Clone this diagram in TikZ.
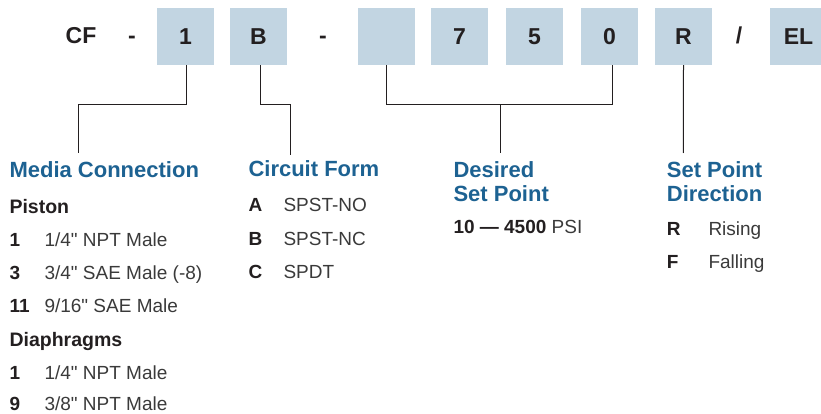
\documentclass[tikz,border=0pt]{standalone}
\usepackage{fontspec}
\setmainfont{Liberation Sans}[Ligatures=TeXOff]
\definecolor{boxblue}{HTML}{C2D5E2}
\definecolor{headblue}{HTML}{1D6292}
\definecolor{txt}{HTML}{231F20}
\definecolor{valtxt}{HTML}{3A3A3A}
\definecolor{linec}{HTML}{231F20}
\begin{document}
\begin{tikzpicture}[x=1pt,y=-1pt,
  codebox/.style={fill=boxblue, minimum width=57pt, minimum height=57pt, inner sep=0pt, text=txt, font=\fontsize{23}{23}\selectfont\bfseries},
  sep/.style={anchor=base, inner sep=0pt, text=txt, font=\fontsize{23}{23}\selectfont\bfseries},
  head/.style={anchor=base west, inner sep=0pt, align=left, text=headblue, font=\fontsize{22}{24.4}\selectfont\bfseries},
  sub/.style={anchor=base west, inner sep=0pt, text=txt, font=\fontsize{19.5}{20}\selectfont\bfseries},
  key/.style={anchor=base west, inner sep=0pt, text=txt, font=\fontsize{19}{20}\selectfont\bfseries},
  val/.style={anchor=base west, inner sep=0pt, text=valtxt, font=\fontsize{19}{20}\selectfont},
  conn/.style={draw=linec, line width=1pt}]
\useasboundingbox (0,0) rectangle (821,414);
\begin{scope}
\clip (0,0) rectangle (821,414);
% top code row
\node[sep] (cf) at (81,44) {CF};
\node[sep] (d1) at (132,44) {-};
\node[codebox] (b1) at (185.5,36.5) {1};
\node[codebox] (bB) at (258.5,36.5) {B};
\node[sep] (d2) at (323,44) {-};
\node[codebox] (bX) at (386.5,36.5) {};
\node[codebox] (b7) at (459.5,36.5) {7};
\node[codebox] (b5) at (534.5,36.5) {5};
\node[codebox] (b0) at (609.5,36.5) {0};
\node[codebox] (bR) at (683.5,36.5) {R};
\node[sep] (sl) at (739,44) {/};
\node[codebox] (bEL) at (798.5,36.5) {EL};
\end{scope}
% connector ends
\coordinate (mcT) at (78.3,153);
\coordinate (cfT) at (290.3,155);
\coordinate (spT) at (500.7,153);
\coordinate (sdT) at (683.3,153);
% connectors
\draw[conn] ([xshift=1pt]b1.south) -- ([xshift=1pt]b1.south |- 0,105) -| (mcT);
\draw[conn] ([xshift=1.5pt]bB.south) -- ([xshift=1.5pt]bB.south |- 0,105) -| (cfT);
\draw[conn] (bX.south) -- (bX.south |- 0,105) -- ([xshift=3pt]b0.south |- 0,105) -- ([xshift=3pt]b0.south);
\draw[conn] (spT |- 0,105) -- (spT);
\draw[conn] (bR.south) -- (sdT);
% Media Connection
\node[head] (mc) at (9.3,178) {Media Connection};
\node[sub] (pis) at (9.3,213) {Piston};
\node[key] (k1) at (9.3,246) {1};
\node[val] (v1) at (44.3,246) {1/4" NPT Male};
\node[key] (k3) at (9.3,279.3) {3};
\node[val] (v3) at (44.3,279.3) {3/4" SAE Male (-8)};
\node[key] (k11) at (9.3,312.7) {11};
\node[val] (v11) at (44.3,312.7) {9/16" SAE Male};
\node[sub] (dia) at (9.3,346) {Diaphragms};
\node[key] (k1d) at (9.3,379.3) {1};
\node[val] (v1d) at (44.3,379.3) {1/4" NPT Male};
\node[key] (k9) at (9.3,410.3) {9};
\node[val] (v9) at (44.3,410.3) {3/8" NPT Male};
% Circuit Form
\node[head] (cfh) at (248.3,177) {Circuit Form};
\node[key] (kA) at (248.3,211.7) {A};
\node[val] (vA) at (283.3,211.7) {SPST-NO};
\node[key] (kB) at (248.3,245) {B};
\node[val] (vB) at (283.3,245) {SPST-NC};
\node[key] (kC) at (248.3,278.3) {C};
\node[val] (vC) at (283.3,278.3) {SPDT};
% Desired Set Point
\node[head] (sph) at (453.3,201.7) {Desired\\Set Point};
\node[val] (spv) at (453.3,233.3) {\textbf{\color{txt}10 — 4500} PSI};
% Set Point Direction
\node[head] (sdh) at (666.7,201.7) {Set Point\\Direction};
\node[key] (kR) at (666.7,235) {R};
\node[val] (vR) at (708.3,235) {Rising};
\node[key] (kF) at (666.7,268.3) {F};
\node[val] (vF) at (708.3,268.3) {Falling};
\end{tikzpicture}
\end{document}
